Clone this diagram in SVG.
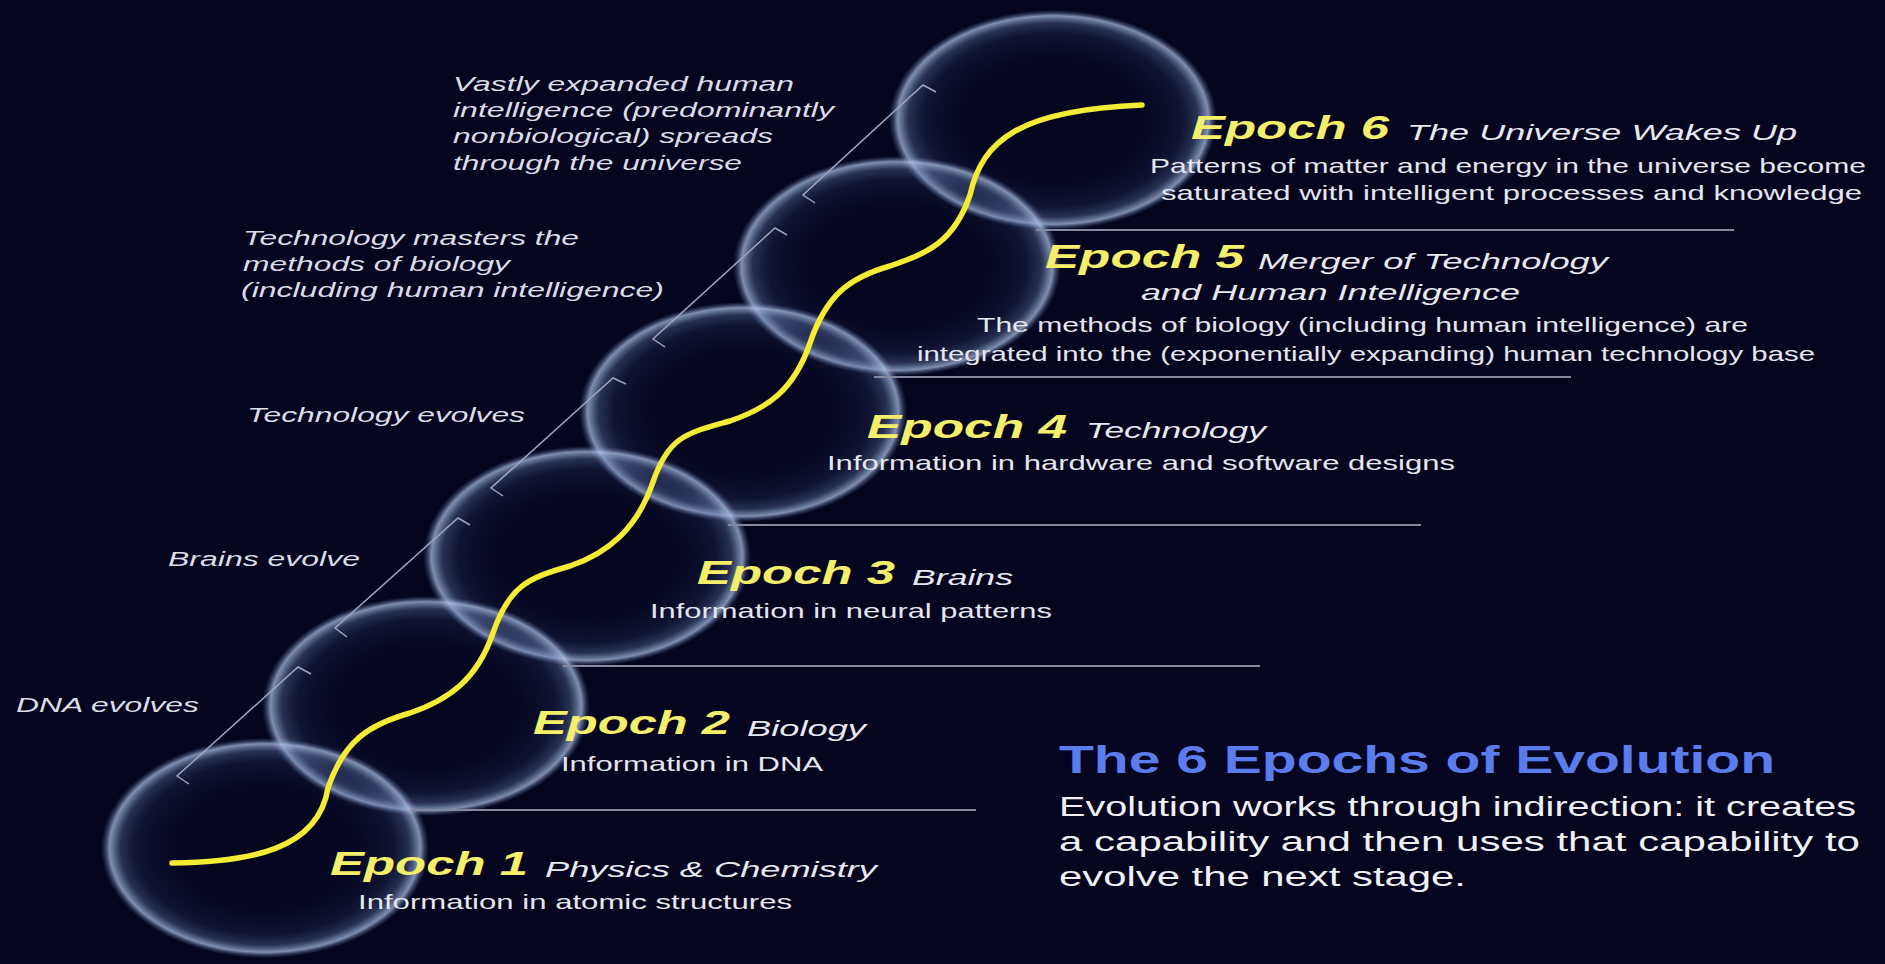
<svg xmlns="http://www.w3.org/2000/svg" width="1885" height="964" viewBox="0 0 1885 964">
<defs>
<radialGradient id="ringGrad" cx="0.5" cy="0.5" r="0.5">
<stop offset="0" stop-color="#10184a" stop-opacity="0"/>
<stop offset="0.55" stop-color="#3a5494" stop-opacity="0.03"/>
<stop offset="0.78" stop-color="#5a78b8" stop-opacity="0.12"/>
<stop offset="0.88" stop-color="#7c98cc" stop-opacity="0.3"/>
<stop offset="0.925" stop-color="#a0b8e2" stop-opacity="0.58"/>
<stop offset="0.948" stop-color="#b6caec" stop-opacity="0.7"/>
<stop offset="0.975" stop-color="#8ca4d4" stop-opacity="0.3"/>
<stop offset="1" stop-color="#7088c0" stop-opacity="0"/>
</radialGradient>
<style>
.ring{fill:url(#ringGrad)}
.sep{stroke:#85889f;stroke-width:2;fill:none}
.brk{stroke:#a0a4c0;stroke-width:1.5;fill:none}
.curve{stroke:#f4ec34;stroke-width:5.5;fill:none;stroke-linecap:round}
.ep{font-family:"Liberation Sans",Arial,sans-serif;font-style:italic;font-weight:bold;font-size:33px;fill:#f4ef6a}
.sub{font-family:"Liberation Sans",Arial,sans-serif;font-style:italic;font-size:22px;fill:#e8e8f0}
.info{font-family:"Liberation Sans",Arial,sans-serif;font-size:21px;fill:#e6e6ee}
.lab{font-family:"Liberation Sans",Arial,sans-serif;font-style:italic;font-size:20px;fill:#dcdce8}
.title{font-family:"Liberation Sans",Arial,sans-serif;font-weight:bold;font-size:38px;fill:#5b7cec}
.body{font-family:"Liberation Sans",Arial,sans-serif;font-size:27px;fill:#f0f0f5}
</style>
</defs>
<rect width="1885" height="964" fill="#05051f"/>
<g id="rings">
<ellipse id="ring6" class="ring" cx="1053" cy="120" rx="164" ry="110"/>
<ellipse id="ring5" class="ring" cx="897" cy="266" rx="164" ry="110"/>
<ellipse id="ring4" class="ring" cx="743" cy="412" rx="164" ry="110"/>
<ellipse id="ring3" class="ring" cx="587" cy="556" rx="164" ry="110"/>
<ellipse id="ring2" class="ring" cx="426" cy="706" rx="164" ry="110"/>
<ellipse id="ring1" class="ring" cx="265" cy="848" rx="164" ry="110"/>
</g>
<g id="connectors">
<g id="separators">
<line class="sep" x1="410" y1="810" x2="976" y2="810"/>
<line class="sep" x1="563" y1="666" x2="1260" y2="666"/>
<line class="sep" x1="728" y1="525" x2="1421" y2="525"/>
<line class="sep" x1="874" y1="377" x2="1571" y2="377"/>
<line class="sep" x1="1036" y1="230" x2="1734" y2="230"/>
</g>
<g id="brackets">
<polyline class="brk" points="189,784 177,776 298,667 311,674"/>
<polyline class="brk" points="347,637 335,628 458,518 470,525"/>
<polyline class="brk" points="503,496 491,488 613,378 626,384"/>
<polyline class="brk" points="665,347 653,339 775,228 787,235"/>
<polyline class="brk" points="815,203 803,195 923,85 936,92"/>
</g>
<path id="evolution-curve" class="curve" d="M172,863 C250,862 318,850 328,788 C344,741 368,725 410,713 C448,700 477,680 493,633 C509,586 528,578 570,566 C608,553 637,529 653,482 C669,435 688,433 730,421 C768,408 794,390 810,343 C826,296 848,278 890,266 C928,253 954,242 970,195 C982,140 1020,110 1142,105"/>
</g>
<g id="epoch1">
<text class="ep" x="330" y="875" textLength="198" lengthAdjust="spacingAndGlyphs">Epoch 1</text>
<text class="sub" x="545" y="877" textLength="332" lengthAdjust="spacingAndGlyphs">Physics &amp; Chemistry</text>
<text class="info" x="358" y="909" textLength="434" lengthAdjust="spacingAndGlyphs">Information in atomic structures</text>
</g>
<g id="epoch2">
<text class="ep" x="533" y="734" textLength="197" lengthAdjust="spacingAndGlyphs">Epoch 2</text>
<text class="sub" x="747" y="736" textLength="119" lengthAdjust="spacingAndGlyphs">Biology</text>
<text class="info" x="561" y="771" textLength="262" lengthAdjust="spacingAndGlyphs">Information in DNA</text>
</g>
<g id="epoch3">
<text class="ep" x="697" y="584" textLength="198" lengthAdjust="spacingAndGlyphs">Epoch 3</text>
<text class="sub" x="912" y="585" textLength="101" lengthAdjust="spacingAndGlyphs">Brains</text>
<text class="info" x="650" y="618" textLength="402" lengthAdjust="spacingAndGlyphs">Information in neural patterns</text>
</g>
<g id="epoch4">
<text class="ep" x="867" y="438" textLength="200" lengthAdjust="spacingAndGlyphs">Epoch 4</text>
<text class="sub" x="1086" y="438" textLength="180" lengthAdjust="spacingAndGlyphs">Technology</text>
<text class="info" x="827" y="470" textLength="628" lengthAdjust="spacingAndGlyphs">Information in hardware and software designs</text>
</g>
<g id="epoch5">
<text class="ep" x="1045" y="268" textLength="199" lengthAdjust="spacingAndGlyphs">Epoch 5</text>
<text class="sub" x="1258" y="269" textLength="350" lengthAdjust="spacingAndGlyphs">Merger of Technology</text>
<text class="sub" x="1141" y="300" textLength="379" lengthAdjust="spacingAndGlyphs">and Human Intelligence</text>
<text class="info" x="977" y="332" textLength="771" lengthAdjust="spacingAndGlyphs">The methods of biology (including human intelligence) are</text>
<text class="info" x="917" y="361" textLength="898" lengthAdjust="spacingAndGlyphs">integrated into the (exponentially expanding) human technology base</text>
</g>
<g id="epoch6">
<text class="ep" x="1191" y="139" textLength="198" lengthAdjust="spacingAndGlyphs">Epoch 6</text>
<text class="sub" x="1407" y="140" textLength="390" lengthAdjust="spacingAndGlyphs">The Universe Wakes Up</text>
<text class="info" x="1150" y="173" textLength="716" lengthAdjust="spacingAndGlyphs">Patterns of matter and energy in the universe become</text>
<text class="info" x="1161" y="200" textLength="701" lengthAdjust="spacingAndGlyphs">saturated with intelligent processes and knowledge</text>
</g>
<g id="label-dna">
<text class="lab" x="16" y="712" textLength="183" lengthAdjust="spacingAndGlyphs">DNA evolves</text>
</g>
<g id="label-brains">
<text class="lab" x="168" y="566" textLength="192" lengthAdjust="spacingAndGlyphs">Brains evolve</text>
</g>
<g id="label-technology">
<text class="lab" x="247" y="422" textLength="278" lengthAdjust="spacingAndGlyphs">Technology evolves</text>
</g>
<g id="label-masters">
<text class="lab" x="243" y="245" textLength="336" lengthAdjust="spacingAndGlyphs">Technology masters the</text>
<text class="lab" x="243" y="271" textLength="267" lengthAdjust="spacingAndGlyphs">methods of biology</text>
<text class="lab" x="241" y="297" textLength="423" lengthAdjust="spacingAndGlyphs">(including human intelligence)</text>
</g>
<g id="label-universe">
<text class="lab" x="453" y="91" textLength="341" lengthAdjust="spacingAndGlyphs">Vastly expanded human</text>
<text class="lab" x="453" y="117" textLength="381" lengthAdjust="spacingAndGlyphs">intelligence (predominantly</text>
<text class="lab" x="453" y="143" textLength="320" lengthAdjust="spacingAndGlyphs">nonbiological) spreads</text>
<text class="lab" x="453" y="170" textLength="289" lengthAdjust="spacingAndGlyphs">through the universe</text>
</g>
<g id="title-block">
<text class="title" x="1059" y="773" textLength="716" lengthAdjust="spacingAndGlyphs">The 6 Epochs of Evolution</text>
<text class="body" x="1059" y="816" textLength="797" lengthAdjust="spacingAndGlyphs">Evolution works through indirection: it creates</text>
<text class="body" x="1059" y="851" textLength="801" lengthAdjust="spacingAndGlyphs">a capability and then uses that capability to</text>
<text class="body" x="1059" y="886" textLength="407" lengthAdjust="spacingAndGlyphs">evolve the next stage.</text>
</g>
</svg>
